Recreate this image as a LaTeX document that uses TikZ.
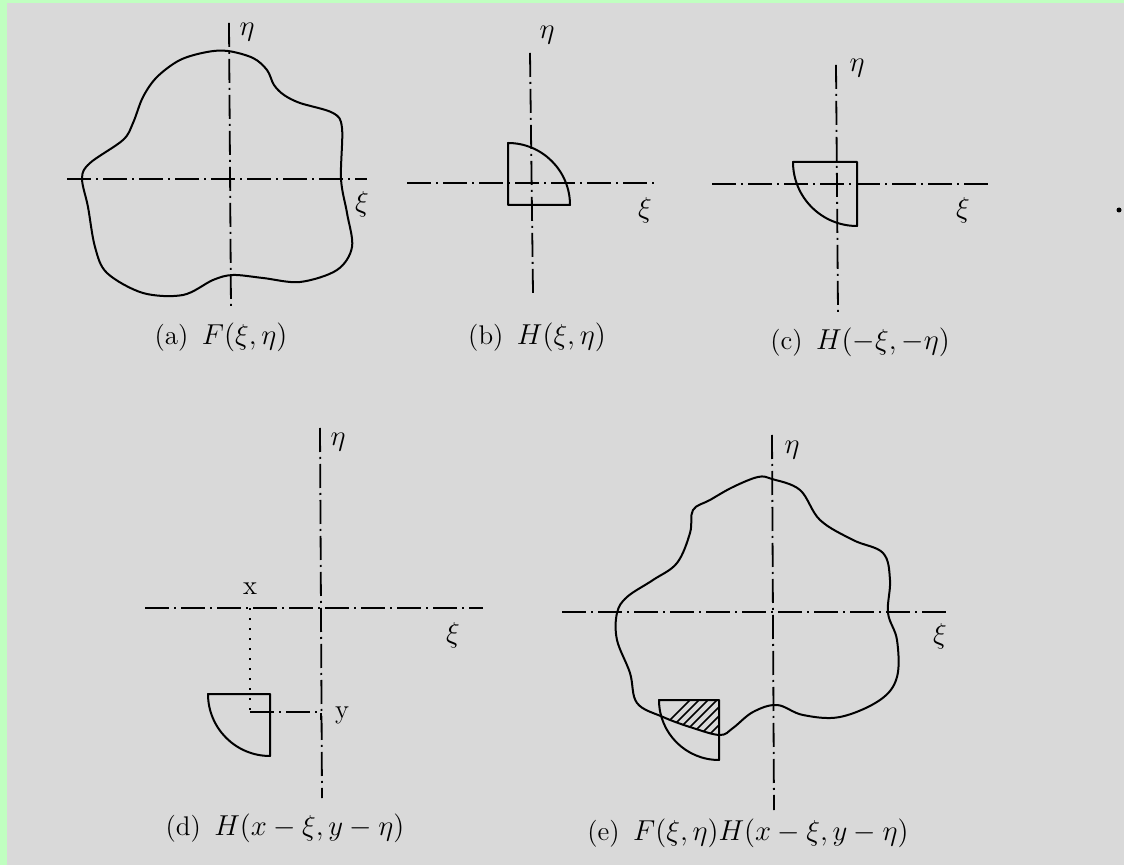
\documentclass[tikz,border=0pt]{standalone}
\usepackage{tikz}
\usetikzlibrary{positioning}
\definecolor{paper}{RGB}{217,217,217}
\definecolor{frame}{RGB}{192,255,192}
\newcommand{\blobE}{plot[smooth cycle, tension=0.6] coordinates {(758,477) (772,479) (800,490) (820,520) (853,540) (883,553) (890,580) (888,613) (897,640) (897,677) (880,700) (840,717) (803,715) (777,705) (753,712) (733,728) (720,735) (693,728) (663,717) (637,703) (630,673) (617,640) (617,613) (627,597) (653,580) (677,563) (690,533) (693,510) (710,500) (733,487)}}

\begin{document}
\begin{tikzpicture}[x=0.5pt, y=-0.5pt,
    axis/.style={line width=0.9pt, dash pattern=on 12pt off 2.5pt on 1pt off 2.5pt},
    guide/.style={line width=0.9pt, dash pattern=on 1pt off 4pt},
    outline/.style={line width=1pt, line join=round},
    lbl/.style={font=\fontsize{15}{18}\selectfont, inner sep=0pt},
    captext/.style={font=\fontsize{13.5}{16}\selectfont, inner sep=0pt}]
  \fill[frame] (0,0) rectangle (1124,865);
  \fill[paper] (7,3) rectangle (1124,865);
  \useasboundingbox (0,0) rectangle (1124,865);

  % (a) F
  \coordinate (a-w) at (67,179); \coordinate (a-e) at (367,179);
  \coordinate (a-n) at (229,23); \coordinate (a-s) at (231,310);
  \draw[axis] (a-w) -- (a-e); \draw[axis] (a-n) -- (a-s);
  \draw[outline] plot[smooth cycle, tension=0.55] coordinates {(228,51) (253,58) (267,70) (274,85) (284,95) (300,103) (333,113) (342,128) (341,179) (347,213) (352,247) (337,270) (300,282) (263,278) (233,275) (213,280) (183,295) (143,293) (107,273) (95,247) (88,207) (82,178) (90,163) (123,140) (133,123) (143,97) (157,77) (180,60) (207,52)};
  \node[lbl] (a-eta) at (247,32) {$\eta$};
  \node[lbl] (a-xi) at (362,204) {$\xi$};
  \node[captext] (a-cap) at (221,337) {(a)\enspace $F(\xi,\eta)$};

  % (b) H
  \coordinate (b-w) at (407,183); \coordinate (b-e) at (658,183);
  \coordinate (b-n) at (530,53); \coordinate (b-s) at (533,293);
  \draw[axis] (b-w) -- (b-e); \draw[axis] (b-n) -- (b-s);
  \draw[outline] (508,205) -- (508,143) arc[start angle=-90, end angle=0, radius=62] -- cycle;
  \node[lbl] (b-eta) at (547,35) {$\eta$};
  \node[lbl] (b-xi) at (645,210) {$\xi$};
  \node[captext] (b-cap) at (537,337) {(b)\enspace $H(\xi,\eta)$};

  % (c) H reflected
  \coordinate (c-w) at (712,184); \coordinate (c-e) at (990,184);
  \coordinate (c-n) at (836,65); \coordinate (c-s) at (838,313);
  \draw[axis] (c-w) -- (c-e); \draw[axis] (c-n) -- (c-s);
  \draw[outline] (857,162) -- (793,162) arc[start angle=180, end angle=90, radius=64] -- cycle;
  \node[lbl] (c-eta) at (857,68) {$\eta$};
  \node[lbl] (c-xi) at (963,210) {$\xi$};
  \node[captext] (c-cap) at (860,342) {(c)\enspace $H(-\xi,-\eta)$};
  \fill (1119,210) circle[radius=2.5];

  % (d) H shifted
  \coordinate (d-w) at (145,608); \coordinate (d-e) at (483,608);
  \coordinate (d-n) at (320,428); \coordinate (d-s) at (322,798);
  \draw[axis] (d-w) -- (d-e); \draw[axis] (d-n) -- (d-s);
  \coordinate (d-x) at (250,608); \coordinate (d-p) at (250,712); \coordinate (d-y) at (321,712);
  \draw[guide] (d-x) -- (d-p);
  \draw[axis] (d-p) -- (d-y) -- ++(0,8);
  \draw[outline] (270,694) -- (208,694) arc[start angle=180, end angle=90, radius=62] -- cycle;
  \node[lbl] (d-eta) at (338,442) {$\eta$};
  \node[lbl] (d-xi) at (453,635) {$\xi$};
  \node[captext] (d-xl) at (250,589) {x};
  \node[captext] (d-yl) at (342,715) {y};
  \node[captext] (d-cap) at (285,828) {(d)\enspace $H(x-\xi,y-\eta)$};

  % (e) product
  \coordinate (e-w) at (562,612); \coordinate (e-e) at (950,612);
  \coordinate (e-n) at (772,435); \coordinate (e-s) at (774,810);
  \draw[axis] (e-w) -- (e-e); \draw[axis] (e-n) -- (e-s);
  \draw[outline] \blobE;
  \begin{scope}
    \clip (719,700) -- (659,700) arc[start angle=180, end angle=90, radius=60] -- cycle;
    \clip \blobE;
    \foreach \k in {0,...,16} \draw[line width=0.8pt] (600+\k*9,790) -- ++(120,-120);
  \end{scope}
  \draw[outline] (719,700) -- (659,700) arc[start angle=180, end angle=90, radius=60] -- cycle;
  \node[lbl] (e-eta) at (792,450) {$\eta$};
  \node[lbl] (e-xi) at (940,636) {$\xi$};
  \node[captext] (e-cap) at (748,833) {(e)\enspace $F(\xi,\eta)H(x-\xi,y-\eta)$};
\end{tikzpicture}
\end{document}
